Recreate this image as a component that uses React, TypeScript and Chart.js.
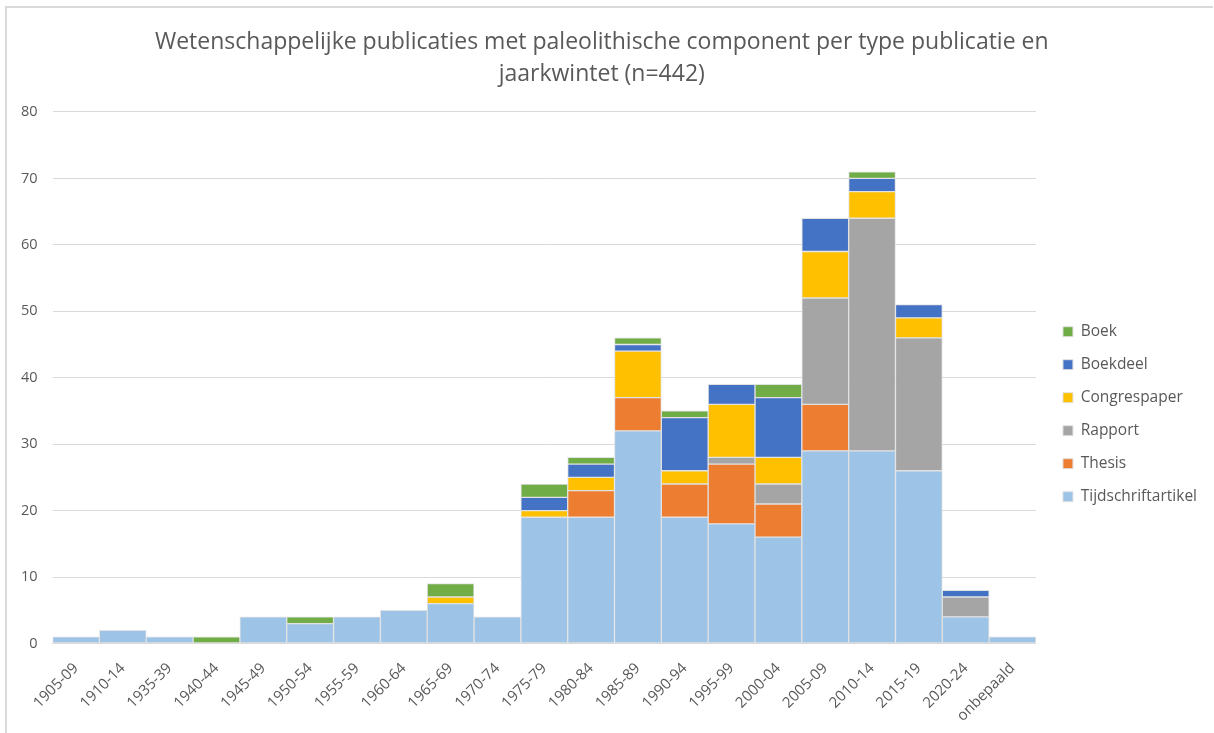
import React, { useEffect, useRef } from 'react';
import { Chart, registerables } from 'chart.js';
Chart.register(...registerables);

const categories = ['1905-09', '1910-14', '1935-39', '1940-44', '1945-49', '1950-54', '1955-59', '1960-64', '1965-69', '1970-74', '1975-79', '1980-84', '1985-89', '1990-94', '1995-99', '2000-04', '2005-09', '2010-14', '2015-19', '2020-24', 'onbepaald'];
const tijdschriftartikel = [1, 2, 1, 0, 4, 3, 4, 5, 6, 4, 19, 19, 32, 19, 18, 16, 29, 29, 26, 4, 1];
const thesis = [0, 0, 0, 0, 0, 0, 0, 0, 0, 0, 0, 4, 5, 5, 9, 5, 7, 0, 0, 0, 0];
const rapport = [0, 0, 0, 0, 0, 0, 0, 0, 0, 0, 0, 0, 0, 0, 1, 3, 16, 35, 20, 3, 0];
const congrespaper = [0, 0, 0, 0, 0, 0, 0, 0, 1, 0, 1, 2, 7, 2, 8, 4, 7, 4, 3, 0, 0];
const boekdeel = [0, 0, 0, 0, 0, 0, 0, 0, 0, 0, 2, 2, 1, 8, 3, 9, 5, 2, 2, 1, 0];
const boek = [0, 0, 0, 1, 0, 1, 0, 0, 2, 0, 2, 1, 1, 1, 0, 2, 0, 1, 0, 0, 0];
const yTicks = [0, 10, 20, 30, 40, 50, 60, 70, 80];

const titleLines = ['Wetenschappelijke publicaties met paleolithische component per type publicatie en', 'jaarkwintet (n=442)'];

const FONT = '"Open Sans", sans-serif';
const TEXT = '#595959';

const legendShift = {
  id: 'legendShift',
  afterLayout(chart: any) {
    const lg = chart.legend;
    if (lg) {
      lg.left += 9.5;
      lg.right += 9.5;
    }
  },
};

export default function App() {
  const ref = useRef<HTMLCanvasElement | null>(null);
  useEffect(() => {
    if (!ref.current) return;
    const nz = (a: number[]) => a.map((v) => (v === 0 ? null : v));
    const mk = (label: string, data: number[], color: string) => ({
      label,
      data: nz(data),
      backgroundColor: color,
      borderColor: '#e2e2e2',
      borderWidth: 1,
      borderSkipped: false,
      barPercentage: 1,
      categoryPercentage: 1,
    });
    const chart = new Chart(ref.current, {
      type: 'bar',
      data: {
        labels: categories,
        datasets: [
          mk('Tijdschriftartikel', tijdschriftartikel, '#9DC3E6'),
          mk('Thesis', thesis, '#ED7D31'),
          mk('Rapport', rapport, '#A5A5A5'),
          mk('Congrespaper', congrespaper, '#FFC000'),
          mk('Boekdeel', boekdeel, '#4472C4'),
          mk('Boek', boek, '#70AD47'),
        ] as any,
      },
      plugins: [legendShift],
      options: {
        animation: false,
        responsive: false,
        maintainAspectRatio: false,
        layout: { padding: { left: 6, right: 16.5, top: 26, bottom: 0 } },
        plugins: {
          title: {
            display: true,
            text: titleLines,
            color: TEXT,
            font: { family: FONT, size: 23, weight: 'normal', lineHeight: 1.39 },
            padding: { top: 0, bottom: 22 },
          },
          legend: {
            position: 'right',
            reverse: true,
            align: 'center',
            title: { display: true, text: '', padding: { top: 55, bottom: 0 } },
            labels: {
              color: TEXT,
              font: { family: FONT, size: 15.5 },
              boxWidth: 10,
              boxHeight: 10,
              padding: 17.5,
            },
          },
          tooltip: { enabled: false },
        },
        scales: {
          x: {
            stacked: true,
            grid: { display: false },
            border: { display: true, color: '#d9d9d9', width: 1 },
            ticks: {
              color: TEXT,
              font: { family: FONT, size: 15 },
              minRotation: 45,
              maxRotation: 45,
              autoSkip: false,
              padding: 8,
            },
          },
          y: {
            stacked: true,
            min: 0,
            max: 80,
            afterBuildTicks: (scale: any) => {
              scale.ticks = yTicks.map((v) => ({ value: v }));
            },
            grid: { color: '#d9d9d9', drawTicks: false },
            border: { display: false },
            ticks: {
              color: TEXT,
              font: { family: FONT, size: 14.5 },
              padding: 15,
            },
          },
        },
      },
    });
    return () => chart.destroy();
  }, []);
  return (
    <div style={{ position: 'fixed', left: 0, top: 0, width: 1214, height: 733, background: '#fff', overflow: 'hidden' }}>
      <div style={{ position: 'absolute', left: 5, top: 6, width: 1208, height: 740, borderTop: '2px solid #d9d9d9', borderLeft: '2px solid #d9d9d9', boxSizing: 'border-box' }} />
      <canvas ref={ref} width={1214} height={733} style={{ position: 'absolute', left: 0, top: 0, width: 1214, height: 733 }} />
    </div>
  );
}
